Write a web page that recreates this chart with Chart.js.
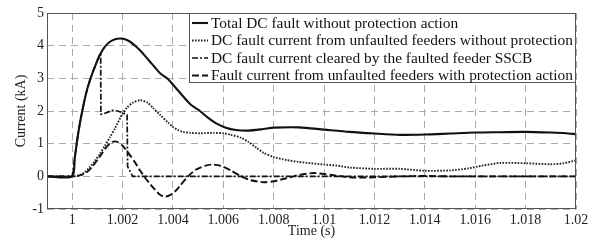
<!DOCTYPE html>
<html><head><meta charset="utf-8">
<script src="https://cdn.jsdelivr.net/npm/chart.js@4.4.1/dist/chart.umd.min.js"></script>
<style>html,body{margin:0;padding:0;background:#fff}canvas{display:block}</style>
</head><body>
<canvas id="c" width="599" height="243"></canvas>
<script>
const seriesLabels = [
  'Total DC fault without protection action',
  'DC fault current from unfaulted feeders without protection',
  'DC fault current cleared by the faulted feeder SSCB',
  'Fault current from unfaulted feeders with protection action'
];
const xTicks = [1, 1.002, 1.004, 1.006, 1.008, 1.01, 1.012, 1.014, 1.016, 1.018, 1.02];
const xTickLabels = ['1', '1.002', '1.004', '1.006', '1.008', '1.01', '1.012', '1.014', '1.016', '1.018', '1.02'];
const yTicks = [-1, 0, 1, 2, 3, 4, 5];
const yTickLabels = ['-1', '0', '1', '2', '3', '4', '5'];

const totalT = [0.999, 1.0, 1.0001, 1.0002, 1.0003, 1.0004, 1.0005, 1.0006, 1.0007, 1.0008, 1.0009, 1.001, 1.0011, 1.0013, 1.0015, 1.0017, 1.0019, 1.0021, 1.0023, 1.0025, 1.0027, 1.0029, 1.0031, 1.0033, 1.0035, 1.0038, 1.0041, 1.0044, 1.0047, 1.00507, 1.0054, 1.0057, 1.0061, 1.0065, 1.007, 1.0076, 1.008, 1.009, 1.01, 1.011, 1.012, 1.013, 1.014, 1.015, 1.016, 1.017, 1.018, 1.019, 1.0196, 1.02];
const totalI = [0, 0, 0.55, 1.12, 1.6, 2.0, 2.37, 2.68, 2.93, 3.15, 3.35, 3.55, 3.72, 3.97, 4.12, 4.2, 4.22, 4.2, 4.12, 4.0, 3.85, 3.68, 3.5, 3.32, 3.15, 2.98, 2.72, 2.45, 2.2, 2.0, 1.79, 1.63, 1.49, 1.42, 1.4, 1.45, 1.49, 1.5, 1.43, 1.36, 1.31, 1.27, 1.28, 1.31, 1.34, 1.35, 1.36, 1.34, 1.32, 1.29];

const unprotT = [0.999, 1.0, 1.0003, 1.0005, 1.0007, 1.0009, 1.0011, 1.0013, 1.0015, 1.0017, 1.002, 1.0022, 1.0024, 1.0027, 1.003, 1.0032, 1.0035, 1.0038, 1.004, 1.0042, 1.0044, 1.0047, 1.0051, 1.0056, 1.006, 1.0063, 1.0067, 1.007, 1.0073, 1.0076, 1.008, 1.0085, 1.009, 1.0095, 1.01, 1.0105, 1.011, 1.012, 1.013, 1.014, 1.015, 1.0157, 1.0163, 1.017, 1.018, 1.019, 1.0195, 1.02];
const unprotI = [0, 0, 0.04, 0.13, 0.28, 0.47, 0.69, 0.94, 1.2, 1.47, 1.92, 2.12, 2.25, 2.33, 2.25, 2.1, 1.87, 1.65, 1.51, 1.42, 1.36, 1.33, 1.32, 1.33, 1.32, 1.27, 1.18, 1.05, 0.88, 0.72, 0.59, 0.5, 0.44, 0.4, 0.36, 0.33, 0.27, 0.23, 0.23, 0.17, 0.18, 0.24, 0.33, 0.41, 0.4, 0.37, 0.4, 0.49];

const sscbT = [0.999, 1.0, 1.0001, 1.0002, 1.0003, 1.0004, 1.0005, 1.0006, 1.0007, 1.0008, 1.0009, 1.001, 1.0011, 1.00113, 1.00114, 1.0013, 1.0016, 1.0018, 1.002, 1.00218, 1.0022, 1.0024, 1.02];
const sscbI = [0, 0, 0.55, 1.12, 1.6, 2.0, 2.37, 2.68, 2.93, 3.15, 3.35, 3.55, 3.72, 3.76, 1.9, 1.93, 2.02, 2.0, 1.95, 1.88, 0.3, 0, 0];

const protT = [0.999, 1.0, 1.0002, 1.0004, 1.00057, 1.0008, 1.001, 1.0012, 1.0014, 1.0016, 1.0017, 1.0018, 1.002, 1.0023, 1.0025, 1.0027, 1.0029, 1.0031, 1.0033, 1.0035, 1.0037, 1.0039, 1.0041, 1.0043, 1.0046, 1.0049, 1.0053, 1.0056, 1.0059, 1.0063, 1.0067, 1.0071, 1.0076, 1.008, 1.0085, 1.009, 1.0096, 1.0103, 1.011, 1.0115, 1.012, 1.013, 1.014, 1.015, 1.02];
const protI = [0, 0, 0.01, 0.05, 0.12, 0.3, 0.5, 0.72, 0.93, 1.05, 1.07, 1.05, 0.94, 0.64, 0.42, 0.17, -0.05, -0.24, -0.42, -0.57, -0.62, -0.57, -0.45, -0.27, 0.0, 0.2, 0.33, 0.36, 0.32, 0.18, 0.0, -0.12, -0.18, -0.15, -0.06, 0.04, 0.1, 0.04, -0.03, -0.04, -0.03, 0.0, 0.01, 0.0, 0];

const pts = (t, v) => t.map((x, i) => ({x: x, y: v[i]}));

const framePlugin = {
  id: 'frameAndLegend',
  afterDraw(chart) {
    const ctx = chart.ctx, ca = chart.chartArea;
    ctx.save();
    ctx.strokeStyle = '#555';
    ctx.lineWidth = 1;
    ctx.setLineDash([]);
    ctx.strokeRect(Math.round(ca.left) + 0.5, Math.round(ca.top) + 0.5, Math.round(ca.right - ca.left) - 1, Math.round(ca.bottom - ca.top) - 1);
    const x0 = Math.round(ca.right - 387), y0 = Math.round(ca.top), x1 = Math.round(ca.right), y1 = y0 + 69;
    ctx.fillStyle = '#fff';
    ctx.fillRect(x0, y0, x1 - x0, y1 - y0);
    ctx.strokeRect(x0 + 0.5, y0 + 0.5, x1 - x0 - 1, y1 - y0);
    ctx.font = '15.4px "Liberation Serif", "Times New Roman", serif';
    ctx.textBaseline = 'middle';
    chart.data.datasets.forEach((ds, i) => {
      const y = y0 + 10 + i * 17.5;
      ctx.setLineDash(ds.borderDash || []);
      ctx.lineWidth = ds.borderWidth;
      ctx.strokeStyle = ds.borderColor;
      ctx.beginPath();
      ctx.moveTo(x0 + 3, y);
      ctx.lineTo(x0 + 19, y);
      ctx.stroke();
      ctx.setLineDash([]);
      ctx.fillStyle = '#111';
      ctx.fillText(ds.label, x0 + 22, y + 0.5);
    });
    ctx.restore();
  }
};

new Chart(document.getElementById('c'), {
  type: 'line',
  data: {
    datasets: [
      {label: seriesLabels[0], data: pts(totalT, totalI), borderColor: '#111', borderWidth: 2.1, tension: 0.25},
      {label: seriesLabels[1], data: pts(unprotT, unprotI), borderColor: '#222', borderWidth: 1.9, borderDash: [1.6, 1.4], tension: 0.25},
      {label: seriesLabels[2], data: pts(sscbT, sscbI), borderColor: '#111', borderWidth: 1.7, borderDash: [6, 2, 2, 2], tension: 0},
      {label: seriesLabels[3], data: pts(protT, protI), borderColor: '#111', borderWidth: 1.9, borderDash: [7, 3], tension: 0.25}
    ]
  },
  options: {
    responsive: false,
    animation: false,
    events: [],
    layout: {padding: {top: 13, right: 23, left: 0, bottom: 0}},
    elements: {point: {radius: 0}},
    plugins: {legend: {display: false}, tooltip: {enabled: false}},
    scales: {
      x: {
        type: 'linear', min: 0.999, max: 1.02,
        afterBuildTicks: s => { s.ticks = xTicks.map(v => ({value: v})); },
        afterFit: s => { s.height = 34; },
        ticks: {callback: (v, i) => xTickLabels[i], color: '#222', padding: 3, maxRotation: 0, autoSkip: false,
                font: {family: '"Liberation Serif"', size: 14}},
        grid: {color: '#aaa', lineWidth: 1, drawTicks: false},
        border: {display: false, dash: [7, 5]},
        title: {display: true, text: 'Time (s)', color: '#222', padding: {top: 0, bottom: 3},
                font: {family: '"Liberation Serif"', size: 14}}
      },
      y: {
        type: 'linear', min: -1, max: 5,
        afterBuildTicks: s => { s.ticks = yTicks.map(v => ({value: v})); },
        afterFit: s => { s.width = 47; },
        ticks: {callback: (v, i) => yTickLabels[i], color: '#222', padding: 3,
                font: {family: '"Liberation Serif"', size: 14}},
        grid: {color: '#aaa', lineWidth: 1, drawTicks: false},
        border: {display: false, dash: [7, 5]},
        title: {display: true, text: 'Current (kA)', color: '#222', padding: {top: 13, bottom: 0},
                font: {family: '"Liberation Serif"', size: 14}}
      }
    }
  },
  plugins: [framePlugin]
});
</script>
</body></html>
